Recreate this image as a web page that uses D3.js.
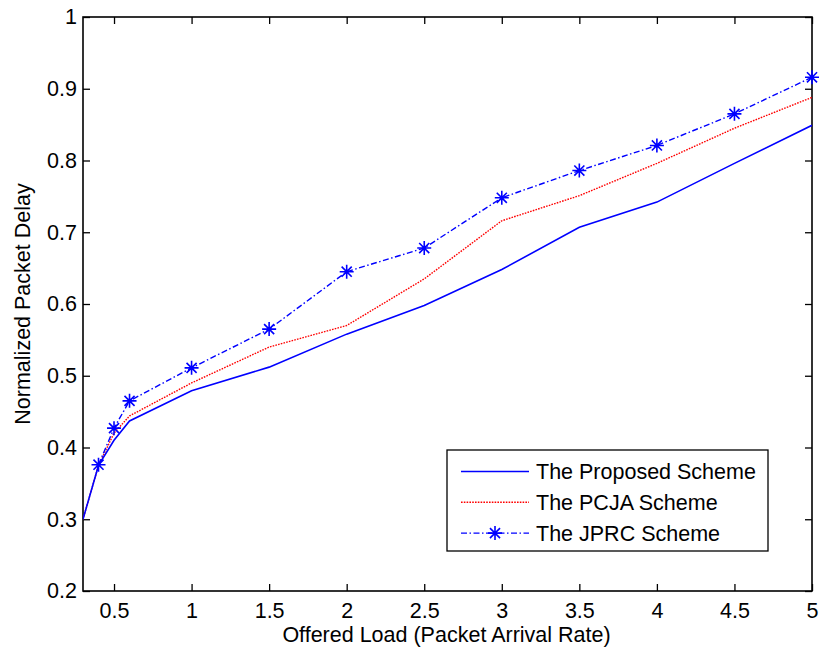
<!DOCTYPE html>
<html>
<head>
<meta charset="utf-8">
<script src="https://cdn.jsdelivr.net/npm/d3@7"></script>
<style>
  body { margin: 0; background: #fff; }
  svg text { font-family: "Liberation Sans", Arial, sans-serif; fill: #000; }
</style>
</head>
<body>
<div id="chart"></div>
<script>
// values
var loads = [0.3, 0.4, 0.5, 0.6, 1, 1.5, 2, 2.5, 3, 3.5, 4, 4.5, 5];
var proposed = [0.3, 0.375, 0.41, 0.437, 0.479, 0.512, 0.558, 0.598, 0.648, 0.707, 0.742, 0.796, 0.849];
var pcja = [0.3, 0.375, 0.42, 0.444, 0.49, 0.54, 0.57, 0.635, 0.716, 0.751, 0.796, 0.845, 0.888];
var jprcLoads = [0.4, 0.5, 0.6, 1, 1.5, 2, 2.5, 3, 3.5, 4, 4.5, 5];
var jprc = [0.376, 0.427, 0.465, 0.511, 0.565, 0.645, 0.678, 0.748, 0.786, 0.821, 0.865, 0.916];
var xTicks = [0.5, 1, 1.5, 2, 2.5, 3, 3.5, 4, 4.5, 5];
var yTicks = [0.2, 0.3, 0.4, 0.5, 0.6, 0.7, 0.8, 0.9, 1];
var seriesNames = ["The Proposed Scheme", "The PCJA Scheme", "The JPRC Scheme"];

var W = 819, H = 651,
    m = {top: 17, right: 7, bottom: 60, left: 83},
    w = W - m.left - m.right,
    h = H - m.top - m.bottom,
    FONT = 21.5,
    TICK = 7;

var svg = d3.select("#chart").append("svg")
    .attr("width", W)
    .attr("height", H);

var g = svg.append("g")
    .attr("transform", "translate(" + m.left + "," + m.top + ")");

var x = d3.scaleLinear().domain([0.3, 5]).range([0, w]);
var y = d3.scaleLinear().domain([0.2, 1]).range([h, 0]);

g.append("defs").append("clipPath").attr("id", "clip")
  .append("rect").attr("width", w).attr("height", h);

// axes: inward ticks on all four sides, like matlab
function styleAxis(sel){
    sel.select(".domain").remove();
    sel.selectAll(".tick line").attr("stroke", "#000").attr("stroke-width", 1.3);
    sel.selectAll(".tick text").style("font-size", FONT + "px");
}
g.append("g").attr("transform", "translate(0," + h + ")")
    .call(d3.axisBottom(x).tickValues(xTicks).tickSizeInner(-TICK).tickSizeOuter(0).tickPadding(12).tickFormat(d3.format("")))
    .call(styleAxis);
g.append("g")
    .call(d3.axisTop(x).tickValues(xTicks).tickSizeInner(-TICK).tickSizeOuter(0).tickFormat(""))
    .call(styleAxis);
g.append("g")
    .call(d3.axisLeft(y).tickValues(yTicks).tickSizeInner(-TICK).tickSizeOuter(0).tickPadding(6).tickFormat(d3.format("")))
    .call(styleAxis);
g.append("g").attr("transform", "translate(" + w + ",0)")
    .call(d3.axisRight(y).tickValues(yTicks).tickSizeInner(-TICK).tickSizeOuter(0).tickFormat(""))
    .call(styleAxis);

g.append("rect")
    .attr("width", w).attr("height", h)
    .attr("fill", "none").attr("stroke", "#000").attr("stroke-width", 1.6);

var line = d3.line()
    .x(function(d){ return x(d[0]); })
    .y(function(d){ return y(d[1]); });

var styles = [
    {color: "#0000ff", dash: null, width: 1.6},
    {color: "#ff0000", dash: "1.6,1.2", width: 1.4},
    {color: "#0000ff", dash: "6,2.5,1.5,2.5", width: 1.4}
];
var data = [
    d3.zip(loads, proposed),
    d3.zip(loads, pcja),
    d3.zip(jprcLoads, jprc)
];

// red first so the solid blue sits on top where they overlap
var plot = g.append("g").attr("clip-path", "url(#clip)");
[1, 0, 2].forEach(function(i){
    plot.append("path")
        .datum(data[i])
        .attr("d", line)
        .attr("fill", "none")
        .attr("stroke", styles[i].color)
        .attr("stroke-width", styles[i].width)
        .attr("stroke-dasharray", styles[i].dash);
});

// asterisk marker
function star(sel, r){
    var s = r * 0.72;
    sel.append("path")
        .attr("d", "M" + (-r) + ",0H" + r + "M0," + (-r) + "V" + r +
                   "M" + (-s) + "," + (-s) + "L" + s + "," + s +
                   "M" + (-s) + "," + s + "L" + s + "," + (-s))
        .attr("stroke", "#0000ff")
        .attr("stroke-width", 1.6)
        .attr("fill", "none");
}
g.append("g").selectAll("g")
    .data(data[2])
  .enter().append("g")
    .attr("transform", function(d){ return "translate(" + x(d[0]) + "," + y(d[1]) + ")"; })
    .each(function(){ star(d3.select(this), 7); });

// axis labels
g.append("text")
    .attr("x", w / 2 - 1)
    .attr("y", h + 51)
    .attr("text-anchor", "middle")
    .style("font-size", FONT + "px")
    .text("Offered Load (Packet Arrival Rate)");
g.append("text")
    .attr("transform", "translate(" + (-m.left + 30) + "," + (h / 2) + ") rotate(-90)")
    .attr("text-anchor", "middle")
    .style("font-size", FONT + "px")
    .text("Normalized Packet Delay");

// legend
var lg = svg.append("g").attr("transform", "translate(447,450)");
lg.append("rect")
    .attr("width", 321).attr("height", 101)
    .attr("fill", "#fff").attr("stroke", "#000").attr("stroke-width", 1.3);
seriesNames.forEach(function(name, i){
    var cy = 21.5 + i * 30.8;
    lg.append("line")
        .attr("x1", 14).attr("x2", 82)
        .attr("y1", cy).attr("y2", cy)
        .attr("stroke", styles[i].color)
        .attr("stroke-width", styles[i].width)
        .attr("stroke-dasharray", styles[i].dash);
    if(i === 2){
        star(lg.append("g").attr("transform", "translate(48," + cy + ")"), 7);
    }
    lg.append("text")
        .attr("x", 89)
        .attr("y", cy + 7.5)
        .style("font-size", FONT + "px")
        .text(name);
});
</script>
</body>
</html>
